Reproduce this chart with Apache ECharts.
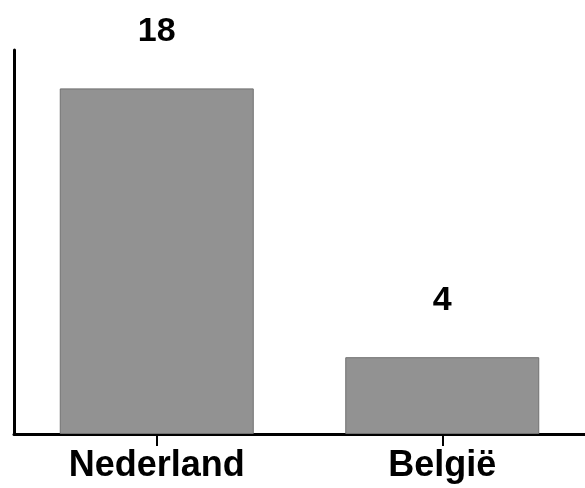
<!DOCTYPE html>
<html>
<head>
<meta charset="utf-8">
<script src="https://cdn.jsdelivr.net/npm/echarts@6/dist/echarts.min.js"></script>
<style>html,body{margin:0;padding:0;background:#fff;}#c{width:585px;height:488px;}</style>
</head>
<body>
<div id="c"></div>
<script>
const categories = ['Nederland', 'België'];
const values = [18, 4];
const yMin = 0, yMax = 20;

const chart = echarts.init(document.getElementById('c'), null, {renderer: 'canvas'});
chart.setOption({
  animation: false,
  grid: {left: 14, right: -3, top: 50, bottom: 54, containLabel: false},
  xAxis: {
    type: 'category',
    data: categories,
    axisLine: {lineStyle: {color: '#000', width: 3}},
    axisTick: {show: true, alignWithLabel: true, length: 12, lineStyle: {color: '#000', width: 2}},
    axisLabel: {margin: 14, color: '#000', fontSize: 36, fontWeight: 'bold', fontFamily: 'Liberation Sans, Arial, sans-serif'}
  },
  yAxis: {
    type: 'value',
    min: yMin, max: yMax,
    axisLine: {show: true, lineStyle: {color: '#000', width: 3}},
    axisTick: {show: false},
    axisLabel: {show: false},
    splitLine: {show: false}
  },
  series: [{
    type: 'bar',
    data: values,
    barWidth: 194,
    itemStyle: {color: '#929292', borderColor: '#707070', borderWidth: 1},
    label: {show: true, position: 'top', distance: 40, color: '#000', fontSize: 34, fontWeight: 'bold', fontFamily: 'Liberation Sans, Arial, sans-serif'}
  }]
});
</script>
</body>
</html>
